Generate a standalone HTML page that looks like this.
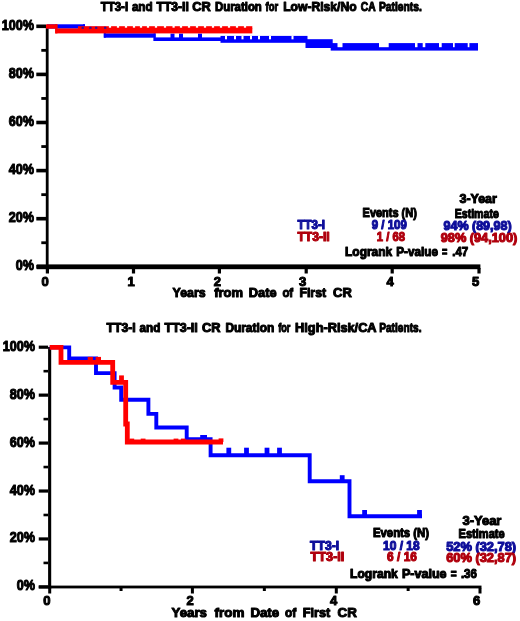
<!DOCTYPE html>
<html><head><meta charset="utf-8"><style>
html,body{margin:0;padding:0;background:#fff;}
svg{display:block;}
text{font-family:"Liberation Sans", sans-serif;font-weight:bold;stroke-width:1.05;stroke-linejoin:round;}
</style></head><body>
<svg width="520" height="621" viewBox="0 0 520 621">
<defs><filter id="bl" x="0" y="0" width="520" height="621" filterUnits="userSpaceOnUse"><feGaussianBlur stdDeviation="0.55"/></filter></defs>
<rect x="0" y="0" width="520" height="621" fill="#fff"/>
<g filter="url(#bl)">
<rect x="45.80" y="26.00" width="2.80" height="243.20" fill="#000"/>
<rect x="36.30" y="24.50" width="9.70" height="3.60" fill="#000"/>
<rect x="36.30" y="72.60" width="9.70" height="3.60" fill="#000"/>
<rect x="36.30" y="120.70" width="9.70" height="3.60" fill="#000"/>
<rect x="36.30" y="168.80" width="9.70" height="3.60" fill="#000"/>
<rect x="36.30" y="216.90" width="9.70" height="3.60" fill="#000"/>
<rect x="36.30" y="265.00" width="9.70" height="3.60" fill="#000"/>
<rect x="41.30" y="48.95" width="4.70" height="2.80" fill="#000"/>
<rect x="41.30" y="97.05" width="4.70" height="2.80" fill="#000"/>
<rect x="41.30" y="145.15" width="4.70" height="2.80" fill="#000"/>
<rect x="41.30" y="193.25" width="4.70" height="2.80" fill="#000"/>
<rect x="41.30" y="241.35" width="4.70" height="2.80" fill="#000"/>
<rect x="36.70" y="264.40" width="443.70" height="4.80" fill="#000"/>
<rect x="45.80" y="268.00" width="3.20" height="5.50" fill="#000"/>
<rect x="131.90" y="268.00" width="3.20" height="5.50" fill="#000"/>
<rect x="217.80" y="268.00" width="3.20" height="5.50" fill="#000"/>
<rect x="304.60" y="268.00" width="3.20" height="5.50" fill="#000"/>
<rect x="390.60" y="268.00" width="3.20" height="5.50" fill="#000"/>
<rect x="477.40" y="268.00" width="3.20" height="5.50" fill="#000"/>
<rect x="47.00" y="24.30" width="38.00" height="4.30" fill="#0000ff"/>
<rect x="83.00" y="24.30" width="2.00" height="6.30" fill="#0000ff"/>
<rect x="83.00" y="26.80" width="22.80" height="3.80" fill="#0000ff"/>
<rect x="103.80" y="26.80" width="2.00" height="10.90" fill="#0000ff"/>
<rect x="103.80" y="33.30" width="51.80" height="4.40" fill="#0000ff"/>
<rect x="153.60" y="33.30" width="2.00" height="7.70" fill="#0000ff"/>
<rect x="153.60" y="37.40" width="68.90" height="3.60" fill="#0000ff"/>
<rect x="170.50" y="33.60" width="4.00" height="4.40" fill="#0000ff"/>
<rect x="179.00" y="33.60" width="4.00" height="4.40" fill="#0000ff"/>
<rect x="198.00" y="33.60" width="4.00" height="4.40" fill="#0000ff"/>
<rect x="220.50" y="35.90" width="87.00" height="6.90" fill="#0000ff"/>
<rect x="225.00" y="35.70" width="2.00" height="3.60" fill="#ffffff"/>
<rect x="234.00" y="35.70" width="2.00" height="3.60" fill="#ffffff"/>
<rect x="241.50" y="35.70" width="2.00" height="3.60" fill="#ffffff"/>
<rect x="250.00" y="35.70" width="2.00" height="3.60" fill="#ffffff"/>
<rect x="258.00" y="35.70" width="2.00" height="3.60" fill="#ffffff"/>
<rect x="269.00" y="35.70" width="2.00" height="3.60" fill="#ffffff"/>
<rect x="291.50" y="35.70" width="2.00" height="3.60" fill="#ffffff"/>
<rect x="305.50" y="39.20" width="27.20" height="8.80" fill="#0000ff"/>
<rect x="330.70" y="43.10" width="147.30" height="7.50" fill="#0000ff"/>
<rect x="337.50" y="42.90" width="5.00" height="4.30" fill="#ffffff"/>
<rect x="379.00" y="42.90" width="9.70" height="4.30" fill="#ffffff"/>
<rect x="415.00" y="42.90" width="2.50" height="4.30" fill="#ffffff"/>
<rect x="422.70" y="42.90" width="2.60" height="4.30" fill="#ffffff"/>
<rect x="439.00" y="42.90" width="2.70" height="4.30" fill="#ffffff"/>
<rect x="453.00" y="42.90" width="1.70" height="4.30" fill="#ffffff"/>
<rect x="467.70" y="42.90" width="1.70" height="4.30" fill="#ffffff"/>
<rect x="46.00" y="24.30" width="11.40" height="4.40" fill="#ff0000"/>
<rect x="55.20" y="24.30" width="2.20" height="9.10" fill="#ff0000"/>
<rect x="55.20" y="28.40" width="197.10" height="5.00" fill="#ff0000"/>
<rect x="78.00" y="26.20" width="174.30" height="3.00" fill="#ff0000"/>
<rect x="154.90" y="26.00" width="2.20" height="1.70" fill="#ffffff"/>
<rect x="163.90" y="26.00" width="2.20" height="1.70" fill="#ffffff"/>
<rect x="172.50" y="26.00" width="2.20" height="1.70" fill="#ffffff"/>
<rect x="108.90" y="26.00" width="2.20" height="1.70" fill="#ffffff"/>
<rect x="116.90" y="26.00" width="2.20" height="1.70" fill="#ffffff"/>
<rect x="124.90" y="26.00" width="2.20" height="1.70" fill="#ffffff"/>
<rect x="132.90" y="26.00" width="2.20" height="1.70" fill="#ffffff"/>
<rect x="139.90" y="26.00" width="2.20" height="1.70" fill="#ffffff"/>
<rect x="146.90" y="26.00" width="2.20" height="1.70" fill="#ffffff"/>
<rect x="179.90" y="26.00" width="2.20" height="1.70" fill="#ffffff"/>
<rect x="187.90" y="26.00" width="2.20" height="1.70" fill="#ffffff"/>
<rect x="195.90" y="26.00" width="2.20" height="1.70" fill="#ffffff"/>
<rect x="203.90" y="26.00" width="2.20" height="1.70" fill="#ffffff"/>
<rect x="211.90" y="26.00" width="2.20" height="1.70" fill="#ffffff"/>
<rect x="219.90" y="26.00" width="2.20" height="1.70" fill="#ffffff"/>
<rect x="227.90" y="26.00" width="2.20" height="1.70" fill="#ffffff"/>
<rect x="235.90" y="26.00" width="2.20" height="1.70" fill="#ffffff"/>
<rect x="243.90" y="26.00" width="2.20" height="1.70" fill="#ffffff"/>
<rect x="81.60" y="26.80" width="2.20" height="2.00" fill="#2a0a9a"/>
<rect x="89.30" y="26.80" width="2.20" height="2.00" fill="#2a0a9a"/>
<rect x="95.10" y="26.80" width="2.20" height="2.00" fill="#2a0a9a"/>
<rect x="104.10" y="26.80" width="2.20" height="2.00" fill="#2a0a9a"/>
<rect x="48.10" y="347.00" width="3.10" height="241.80" fill="#000"/>
<rect x="38.75" y="345.60" width="9.35" height="3.20" fill="#000"/>
<rect x="38.75" y="393.54" width="9.35" height="3.20" fill="#000"/>
<rect x="38.75" y="441.48" width="9.35" height="3.20" fill="#000"/>
<rect x="38.75" y="489.42" width="9.35" height="3.20" fill="#000"/>
<rect x="38.75" y="537.36" width="9.35" height="3.20" fill="#000"/>
<rect x="38.75" y="585.30" width="9.35" height="3.20" fill="#000"/>
<rect x="43.50" y="369.87" width="4.60" height="2.60" fill="#000"/>
<rect x="43.50" y="417.81" width="4.60" height="2.60" fill="#000"/>
<rect x="43.50" y="465.75" width="4.60" height="2.60" fill="#000"/>
<rect x="43.50" y="513.69" width="4.60" height="2.60" fill="#000"/>
<rect x="43.50" y="561.63" width="4.60" height="2.60" fill="#000"/>
<rect x="38.75" y="585.60" width="442.75" height="2.80" fill="#000"/>
<rect x="48.20" y="588.00" width="3.00" height="5.50" fill="#000"/>
<rect x="190.90" y="588.00" width="3.00" height="5.50" fill="#000"/>
<rect x="334.80" y="588.00" width="3.00" height="5.50" fill="#000"/>
<rect x="478.50" y="588.00" width="3.00" height="5.50" fill="#000"/>
<rect x="119.55" y="588.00" width="3.00" height="3.00" fill="#000"/>
<rect x="262.85" y="588.00" width="3.00" height="3.00" fill="#000"/>
<rect x="406.65" y="588.00" width="3.00" height="3.00" fill="#000"/>
<path d="M49.70,347.40 L69.20,347.40 L69.20,358.40 L96.00,358.40 L96.00,373.10 L114.60,373.10 L114.60,387.60 L121.20,387.50 L121.20,399.80 L148.40,399.80 L148.40,413.90 L156.30,413.90 L156.30,427.50 L186.70,427.50 L186.70,439.30 L210.60,439.30 L210.60,455.20 L309.70,455.20 L309.70,481.20 L349.50,481.20 L349.50,516.30 L422.00,516.30" fill="none" stroke="#0000ff" stroke-width="3.9" stroke-linejoin="miter" stroke-linecap="butt"/>
<rect x="200.20" y="435.00" width="6.80" height="4.30" fill="#0000ff"/>
<rect x="226.40" y="447.70" width="4.80" height="7.50" fill="#0000ff"/>
<rect x="244.10" y="447.70" width="4.80" height="7.50" fill="#0000ff"/>
<rect x="264.60" y="447.70" width="4.80" height="7.50" fill="#0000ff"/>
<rect x="277.10" y="447.70" width="4.80" height="7.50" fill="#0000ff"/>
<rect x="339.80" y="475.20" width="4.80" height="6.00" fill="#0000ff"/>
<rect x="362.20" y="510.00" width="4.80" height="6.30" fill="#0000ff"/>
<rect x="417.10" y="510.00" width="4.80" height="6.30" fill="#0000ff"/>
<path d="M49.70,347.40 L61.00,347.40 L61.00,362.40 L112.70,362.40 L112.70,382.40 L125.70,382.40 L125.70,424.00 L127.30,424.00 L127.30,442.00 L223.00,442.00" fill="none" stroke="#ff0000" stroke-width="4.8" stroke-linejoin="miter" stroke-linecap="butt"/>
<rect x="87.70" y="356.90" width="5.20" height="5.50" fill="#ff0000"/>
<rect x="95.60" y="356.90" width="5.40" height="5.50" fill="#ff0000"/>
<rect x="119.10" y="375.40" width="4.80" height="7.00" fill="#ff0000"/>
<rect x="129.40" y="438.60" width="4.80" height="3.40" fill="#ff0000"/>
<rect x="140.70" y="438.60" width="4.80" height="3.40" fill="#ff0000"/>
<rect x="173.60" y="438.60" width="4.80" height="3.40" fill="#ff0000"/>
<rect x="180.90" y="438.60" width="4.80" height="3.40" fill="#ff0000"/>
<rect x="218.60" y="438.40" width="4.80" height="3.60" fill="#ff0000"/>
<text x="100.80" y="11.20" font-size="12.5" fill="#000" stroke="#000" textLength="27.30" lengthAdjust="spacingAndGlyphs">TT3-I</text>
<text x="131.90" y="11.20" font-size="12.5" fill="#000" stroke="#000" textLength="20.70" lengthAdjust="spacingAndGlyphs">and</text>
<text x="156.60" y="11.20" font-size="12.5" fill="#000" stroke="#000" textLength="32.20" lengthAdjust="spacingAndGlyphs">TT3-II</text>
<text x="192.30" y="11.20" font-size="12.5" fill="#000" stroke="#000" textLength="18.50" lengthAdjust="spacingAndGlyphs">CR</text>
<text x="215.00" y="11.20" font-size="12.5" fill="#000" stroke="#000" textLength="46.80" lengthAdjust="spacingAndGlyphs">Duration</text>
<text x="265.50" y="11.20" font-size="12.5" fill="#000" stroke="#000" textLength="12.60" lengthAdjust="spacingAndGlyphs">for</text>
<text x="283.20" y="11.20" font-size="12.5" fill="#000" stroke="#000" textLength="73.40" lengthAdjust="spacingAndGlyphs">Low-Risk/No</text>
<text x="360.80" y="11.20" font-size="12.5" fill="#000" stroke="#000" textLength="14.80" lengthAdjust="spacingAndGlyphs">CA</text>
<text x="378.90" y="11.20" font-size="12.5" fill="#000" stroke="#000" textLength="43.00" lengthAdjust="spacingAndGlyphs">Patients.</text>
<text x="106.60" y="331.50" font-size="12.5" fill="#000" stroke="#000" textLength="29.00" lengthAdjust="spacingAndGlyphs">TT3-I</text>
<text x="139.60" y="331.50" font-size="12.5" fill="#000" stroke="#000" textLength="20.80" lengthAdjust="spacingAndGlyphs">and</text>
<text x="164.60" y="331.50" font-size="12.5" fill="#000" stroke="#000" textLength="33.10" lengthAdjust="spacingAndGlyphs">TT3-II</text>
<text x="201.90" y="331.50" font-size="12.5" fill="#000" stroke="#000" textLength="18.50" lengthAdjust="spacingAndGlyphs">CR</text>
<text x="225.40" y="331.50" font-size="12.5" fill="#000" stroke="#000" textLength="48.90" lengthAdjust="spacingAndGlyphs">Duration</text>
<text x="278.20" y="331.50" font-size="12.5" fill="#000" stroke="#000" textLength="12.20" lengthAdjust="spacingAndGlyphs">for</text>
<text x="295.10" y="331.50" font-size="12.5" fill="#000" stroke="#000" textLength="81.50" lengthAdjust="spacingAndGlyphs">High-Risk/CA</text>
<text x="379.20" y="331.50" font-size="12.5" fill="#000" stroke="#000" textLength="42.30" lengthAdjust="spacingAndGlyphs">Patients.</text>
<text transform="translate(33.90,29.80) scale(0.9,1)" x="0" y="0" font-size="14" fill="#000" stroke="#000" text-anchor="end">100%</text>
<text transform="translate(33.90,77.90) scale(0.9,1)" x="0" y="0" font-size="14" fill="#000" stroke="#000" text-anchor="end">80%</text>
<text transform="translate(33.90,126.00) scale(0.9,1)" x="0" y="0" font-size="14" fill="#000" stroke="#000" text-anchor="end">60%</text>
<text transform="translate(33.90,174.10) scale(0.9,1)" x="0" y="0" font-size="14" fill="#000" stroke="#000" text-anchor="end">40%</text>
<text transform="translate(33.90,222.20) scale(0.9,1)" x="0" y="0" font-size="14" fill="#000" stroke="#000" text-anchor="end">20%</text>
<text transform="translate(33.90,269.60) scale(0.9,1)" x="0" y="0" font-size="14" fill="#000" stroke="#000" text-anchor="end">0%</text>
<text transform="translate(35.00,350.70) scale(0.9,1)" x="0" y="0" font-size="14" fill="#000" stroke="#000" text-anchor="end">100%</text>
<text transform="translate(35.00,398.64) scale(0.9,1)" x="0" y="0" font-size="14" fill="#000" stroke="#000" text-anchor="end">80%</text>
<text transform="translate(35.00,446.58) scale(0.9,1)" x="0" y="0" font-size="14" fill="#000" stroke="#000" text-anchor="end">60%</text>
<text transform="translate(35.00,494.52) scale(0.9,1)" x="0" y="0" font-size="14" fill="#000" stroke="#000" text-anchor="end">40%</text>
<text transform="translate(35.00,542.46) scale(0.9,1)" x="0" y="0" font-size="14" fill="#000" stroke="#000" text-anchor="end">20%</text>
<text transform="translate(35.00,589.50) scale(0.9,1)" x="0" y="0" font-size="14" fill="#000" stroke="#000" text-anchor="end">0%</text>
<text x="45.00" y="285.50" font-size="13" fill="#000" stroke="#000" text-anchor="middle">0</text>
<text x="131.10" y="285.50" font-size="13" fill="#000" stroke="#000" text-anchor="middle">1</text>
<text x="217.40" y="285.50" font-size="13" fill="#000" stroke="#000" text-anchor="middle">2</text>
<text x="302.60" y="285.50" font-size="13" fill="#000" stroke="#000" text-anchor="middle">3</text>
<text x="390.00" y="285.50" font-size="13" fill="#000" stroke="#000" text-anchor="middle">4</text>
<text x="475.50" y="285.50" font-size="13" fill="#000" stroke="#000" text-anchor="middle">5</text>
<text x="46.80" y="604.60" font-size="13" fill="#000" stroke="#000" text-anchor="middle">0</text>
<text x="190.10" y="604.60" font-size="13" fill="#000" stroke="#000" text-anchor="middle">2</text>
<text x="333.50" y="604.60" font-size="13" fill="#000" stroke="#000" text-anchor="middle">4</text>
<text x="476.60" y="604.60" font-size="13" fill="#000" stroke="#000" text-anchor="middle">6</text>
<text x="172.60" y="296.70" font-size="13" fill="#000" stroke="#000" textLength="33.00" lengthAdjust="spacingAndGlyphs">Years</text>
<text x="214.20" y="296.70" font-size="13" fill="#000" stroke="#000" textLength="28.80" lengthAdjust="spacingAndGlyphs">from</text>
<text x="248.80" y="296.70" font-size="13" fill="#000" stroke="#000" textLength="27.80" lengthAdjust="spacingAndGlyphs">Date</text>
<text x="282.40" y="296.70" font-size="13" fill="#000" stroke="#000" textLength="10.80" lengthAdjust="spacingAndGlyphs">of</text>
<text x="299.40" y="296.70" font-size="13" fill="#000" stroke="#000" textLength="26.70" lengthAdjust="spacingAndGlyphs">First</text>
<text x="333.10" y="296.70" font-size="13" fill="#000" stroke="#000" textLength="18.70" lengthAdjust="spacingAndGlyphs">CR</text>
<text x="171.60" y="617.00" font-size="13" fill="#000" stroke="#000" textLength="35.40" lengthAdjust="spacingAndGlyphs">Years</text>
<text x="214.60" y="617.00" font-size="13" fill="#000" stroke="#000" textLength="29.80" lengthAdjust="spacingAndGlyphs">from</text>
<text x="250.40" y="617.00" font-size="13" fill="#000" stroke="#000" textLength="28.80" lengthAdjust="spacingAndGlyphs">Date</text>
<text x="285.10" y="617.00" font-size="13" fill="#000" stroke="#000" textLength="11.20" lengthAdjust="spacingAndGlyphs">of</text>
<text x="302.70" y="617.00" font-size="13" fill="#000" stroke="#000" textLength="27.60" lengthAdjust="spacingAndGlyphs">First</text>
<text x="337.60" y="617.00" font-size="13" fill="#000" stroke="#000" textLength="19.30" lengthAdjust="spacingAndGlyphs">CR</text>
<text x="459.50" y="203.40" font-size="12" fill="#000" stroke="#000" textLength="37.30" lengthAdjust="spacingAndGlyphs">3-Year</text>
<text x="362.60" y="217.40" font-size="12" fill="#000" stroke="#000" textLength="54.20" lengthAdjust="spacingAndGlyphs">Events (N)</text>
<text x="454.70" y="217.60" font-size="12" fill="#000" stroke="#000" textLength="44.10" lengthAdjust="spacingAndGlyphs">Estimate</text>
<text x="297.40" y="229.20" font-size="12" fill="#0a0a9a" stroke="#0a0a9a" textLength="27.60" lengthAdjust="spacingAndGlyphs">TT3-I</text>
<text x="371.80" y="229.30" font-size="12" fill="#0a0a9a" stroke="#0a0a9a" textLength="35.00" lengthAdjust="spacingAndGlyphs">9 / 109</text>
<text x="443.50" y="230.20" font-size="12" fill="#0a0a9a" stroke="#0a0a9a" textLength="68.10" lengthAdjust="spacingAndGlyphs">94% (89,98)</text>
<text x="297.40" y="240.60" font-size="12" fill="#b0000c" stroke="#b0000c" textLength="32.30" lengthAdjust="spacingAndGlyphs">TT3-II</text>
<text x="376.80" y="240.80" font-size="12" fill="#b0000c" stroke="#b0000c" textLength="28.10" lengthAdjust="spacingAndGlyphs">1 / 68</text>
<text x="440.70" y="241.90" font-size="12" fill="#b0000c" stroke="#b0000c" textLength="76.60" lengthAdjust="spacingAndGlyphs">98% (94,100)</text>
<text x="345.10" y="256.00" font-size="12" fill="#000" stroke="#000" textLength="47.00" lengthAdjust="spacingAndGlyphs">Logrank</text>
<text x="396.30" y="256.00" font-size="12" fill="#000" stroke="#000" textLength="41.70" lengthAdjust="spacingAndGlyphs">P-value</text>
<text x="442.10" y="256.00" font-size="12" fill="#000" stroke="#000" textLength="5.30" lengthAdjust="spacingAndGlyphs">=</text>
<text x="452.20" y="256.00" font-size="12" fill="#000" stroke="#000" textLength="16.00" lengthAdjust="spacingAndGlyphs">.47</text>
<text x="462.60" y="524.70" font-size="12" fill="#000" stroke="#000" textLength="38.80" lengthAdjust="spacingAndGlyphs">3-Year</text>
<text x="373.00" y="537.40" font-size="12" fill="#000" stroke="#000" textLength="56.00" lengthAdjust="spacingAndGlyphs">Events (N)</text>
<text x="458.50" y="537.80" font-size="12" fill="#000" stroke="#000" textLength="46.20" lengthAdjust="spacingAndGlyphs">Estimate</text>
<text x="310.00" y="549.80" font-size="12" fill="#0a0a9a" stroke="#0a0a9a" textLength="29.10" lengthAdjust="spacingAndGlyphs">TT3-I</text>
<text x="383.10" y="549.60" font-size="12" fill="#0a0a9a" stroke="#0a0a9a" textLength="36.50" lengthAdjust="spacingAndGlyphs">10 / 18</text>
<text x="446.20" y="551.30" font-size="12" fill="#0a0a9a" stroke="#0a0a9a" textLength="69.90" lengthAdjust="spacingAndGlyphs">52% (32,78)</text>
<text x="310.60" y="561.20" font-size="12" fill="#b0000c" stroke="#b0000c" textLength="33.80" lengthAdjust="spacingAndGlyphs">TT3-II</text>
<text x="387.10" y="561.00" font-size="12" fill="#b0000c" stroke="#b0000c" textLength="29.80" lengthAdjust="spacingAndGlyphs">6 / 16</text>
<text x="446.20" y="562.10" font-size="12" fill="#b0000c" stroke="#b0000c" textLength="69.90" lengthAdjust="spacingAndGlyphs">60% (32,87)</text>
<text x="350.10" y="577.60" font-size="12" fill="#000" stroke="#000" textLength="47.70" lengthAdjust="spacingAndGlyphs">Logrank</text>
<text x="401.90" y="577.60" font-size="12" fill="#000" stroke="#000" textLength="44.70" lengthAdjust="spacingAndGlyphs">P-value</text>
<text x="450.80" y="577.60" font-size="12" fill="#000" stroke="#000" textLength="5.90" lengthAdjust="spacingAndGlyphs">=</text>
<text x="460.90" y="577.60" font-size="12" fill="#000" stroke="#000" textLength="16.00" lengthAdjust="spacingAndGlyphs">.36</text>
</g>
</svg>
</body></html>
